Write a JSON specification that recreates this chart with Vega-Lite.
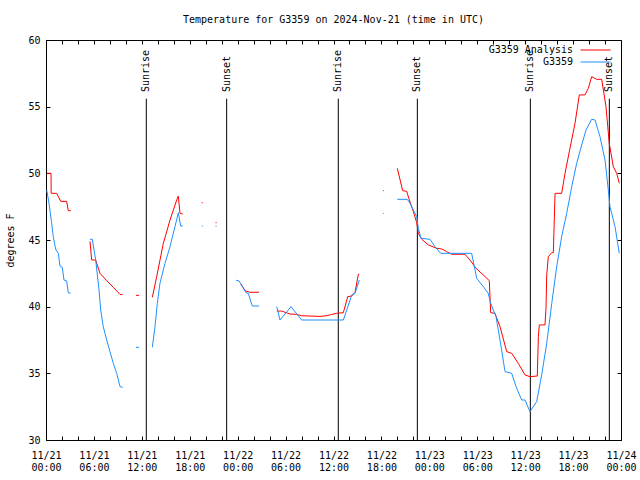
{
  "$schema": "https://vega.github.io/schema/vega-lite/v6.json",
  "width": 575,
  "height": 400,
  "autosize": {"type": "none"},
  "padding": {"left": 46, "top": 40, "right": 19, "bottom": 40},
  "background": "white",
  "title": {"text": "Temperature for G3359 on 2024-Nov-21 (time in UTC)", "font": "DejaVu Sans Mono", "fontSize": 10, "fontWeight": "normal", "color": "black", "anchor": "middle", "frame": "group", "offset": 10},
  "datasets": {
    "temps": [
      {"series":"G3359 Analysis","seg":"r1","hour":0.09,"temp":50.0},
      {"series":"G3359 Analysis","seg":"r1","hour":0.63,"temp":50.0},
      {"series":"G3359 Analysis","seg":"r1","hour":0.65,"temp":48.5},
      {"series":"G3359 Analysis","seg":"r1","hour":1.34,"temp":48.5},
      {"series":"G3359 Analysis","seg":"r1","hour":1.84,"temp":47.9},
      {"series":"G3359 Analysis","seg":"r1","hour":2.59,"temp":47.9},
      {"series":"G3359 Analysis","seg":"r1","hour":2.79,"temp":47.2},
      {"series":"G3359 Analysis","seg":"r1","hour":3.09,"temp":47.2},
      {"series":"G3359 Analysis","seg":"r2","hour":5.51,"temp":44.9},
      {"series":"G3359 Analysis","seg":"r2","hour":5.72,"temp":43.5},
      {"series":"G3359 Analysis","seg":"r2","hour":6.22,"temp":43.5},
      {"series":"G3359 Analysis","seg":"r2","hour":6.76,"temp":42.5},
      {"series":"G3359 Analysis","seg":"r2","hour":7.6,"temp":41.95},
      {"series":"G3359 Analysis","seg":"r2","hour":8.43,"temp":41.45},
      {"series":"G3359 Analysis","seg":"r2","hour":9.27,"temp":40.92},
      {"series":"G3359 Analysis","seg":"r2","hour":9.6,"temp":40.92},
      {"series":"G3359 Analysis","seg":"r3","hour":11.27,"temp":40.85},
      {"series":"G3359 Analysis","seg":"r3","hour":11.65,"temp":40.85},
      {"series":"G3359 Analysis","seg":"r4","hour":13.31,"temp":40.7},
      {"series":"G3359 Analysis","seg":"r4","hour":13.86,"temp":42.25},
      {"series":"G3359 Analysis","seg":"r4","hour":14.69,"temp":44.75},
      {"series":"G3359 Analysis","seg":"r4","hour":15.53,"temp":46.5},
      {"series":"G3359 Analysis","seg":"r4","hour":16.37,"temp":48.0},
      {"series":"G3359 Analysis","seg":"r4","hour":16.57,"temp":48.3},
      {"series":"G3359 Analysis","seg":"r4","hour":16.78,"temp":47.0},
      {"series":"G3359 Analysis","seg":"r4","hour":17.12,"temp":46.95},
      {"series":"G3359 Analysis","seg":"r5","hour":19.5,"temp":47.8},
      {"series":"G3359 Analysis","seg":"r5","hour":19.63,"temp":47.8},
      {"series":"G3359 Analysis","seg":"r6","hour":21.23,"temp":46.3},
      {"series":"G3359 Analysis","seg":"r6","hour":21.36,"temp":46.3},
      {"series":"G3359 Analysis","seg":"r7","hour":24.38,"temp":41.7},
      {"series":"G3359 Analysis","seg":"r7","hour":24.92,"temp":41.2},
      {"series":"G3359 Analysis","seg":"r7","hour":25.54,"temp":41.08},
      {"series":"G3359 Analysis","seg":"r7","hour":26.67,"temp":41.08},
      {"series":"G3359 Analysis","seg":"r8","hour":28.89,"temp":39.67},
      {"series":"G3359 Analysis","seg":"r8","hour":29.51,"temp":39.67},
      {"series":"G3359 Analysis","seg":"r8","hour":30.55,"temp":39.45},
      {"series":"G3359 Analysis","seg":"r8","hour":31.39,"temp":39.42},
      {"series":"G3359 Analysis","seg":"r8","hour":32.02,"temp":39.32},
      {"series":"G3359 Analysis","seg":"r8","hour":34.31,"temp":39.27},
      {"series":"G3359 Analysis","seg":"r8","hour":35.15,"temp":39.32},
      {"series":"G3359 Analysis","seg":"r8","hour":35.78,"temp":39.42},
      {"series":"G3359 Analysis","seg":"r8","hour":36.4,"temp":39.5},
      {"series":"G3359 Analysis","seg":"r8","hour":37.23,"temp":39.55},
      {"series":"G3359 Analysis","seg":"r8","hour":37.78,"temp":40.75},
      {"series":"G3359 Analysis","seg":"r8","hour":38.28,"temp":40.8},
      {"series":"G3359 Analysis","seg":"r8","hour":38.69,"temp":41.05},
      {"series":"G3359 Analysis","seg":"r8","hour":39.11,"temp":42.43},
      {"series":"G3359 Analysis","seg":"r8","hour":39.23,"temp":42.43},
      {"series":"G3359 Analysis","seg":"r9","hour":42.18,"temp":48.7},
      {"series":"G3359 Analysis","seg":"r9","hour":42.3,"temp":48.7},
      {"series":"G3359 Analysis","seg":"r10","hour":43.99,"temp":50.38},
      {"series":"G3359 Analysis","seg":"r10","hour":44.66,"temp":48.7},
      {"series":"G3359 Analysis","seg":"r10","hour":45.17,"temp":48.65},
      {"series":"G3359 Analysis","seg":"r10","hour":45.5,"temp":48.0},
      {"series":"G3359 Analysis","seg":"r10","hour":46.0,"temp":47.13},
      {"series":"G3359 Analysis","seg":"r10","hour":46.42,"temp":46.3},
      {"series":"G3359 Analysis","seg":"r10","hour":46.62,"temp":45.5},
      {"series":"G3359 Analysis","seg":"r10","hour":47.05,"temp":45.05},
      {"series":"G3359 Analysis","seg":"r10","hour":47.87,"temp":44.63},
      {"series":"G3359 Analysis","seg":"r10","hour":48.92,"temp":44.38},
      {"series":"G3359 Analysis","seg":"r10","hour":49.55,"temp":44.33},
      {"series":"G3359 Analysis","seg":"r10","hour":50.17,"temp":44.13},
      {"series":"G3359 Analysis","seg":"r10","hour":50.8,"temp":43.93},
      {"series":"G3359 Analysis","seg":"r10","hour":52.47,"temp":43.93},
      {"series":"G3359 Analysis","seg":"r10","hour":53.09,"temp":43.5},
      {"series":"G3359 Analysis","seg":"r10","hour":53.84,"temp":42.88},
      {"series":"G3359 Analysis","seg":"r10","hour":54.76,"temp":42.38},
      {"series":"G3359 Analysis","seg":"r10","hour":55.51,"temp":41.95},
      {"series":"G3359 Analysis","seg":"r10","hour":55.68,"temp":39.55},
      {"series":"G3359 Analysis","seg":"r10","hour":56.22,"temp":39.5},
      {"series":"G3359 Analysis","seg":"r10","hour":56.85,"temp":38.5},
      {"series":"G3359 Analysis","seg":"r10","hour":57.69,"temp":36.63},
      {"series":"G3359 Analysis","seg":"r10","hour":58.31,"temp":36.5},
      {"series":"G3359 Analysis","seg":"r10","hour":59.14,"temp":35.75},
      {"series":"G3359 Analysis","seg":"r10","hour":59.98,"temp":34.88},
      {"series":"G3359 Analysis","seg":"r10","hour":60.6,"temp":34.75},
      {"series":"G3359 Analysis","seg":"r10","hour":61.52,"temp":34.8},
      {"series":"G3359 Analysis","seg":"r10","hour":61.65,"temp":37.75},
      {"series":"G3359 Analysis","seg":"r10","hour":61.77,"temp":38.63},
      {"series":"G3359 Analysis","seg":"r10","hour":62.48,"temp":38.63},
      {"series":"G3359 Analysis","seg":"r10","hour":62.61,"temp":39.88},
      {"series":"G3359 Analysis","seg":"r10","hour":62.7,"temp":42.38},
      {"series":"G3359 Analysis","seg":"r10","hour":62.9,"temp":43.75},
      {"series":"G3359 Analysis","seg":"r10","hour":63.33,"temp":44.05},
      {"series":"G3359 Analysis","seg":"r10","hour":63.53,"temp":44.05},
      {"series":"G3359 Analysis","seg":"r10","hour":63.74,"temp":48.5},
      {"series":"G3359 Analysis","seg":"r10","hour":64.57,"temp":48.5},
      {"series":"G3359 Analysis","seg":"r10","hour":64.99,"temp":50.0},
      {"series":"G3359 Analysis","seg":"r10","hour":65.61,"temp":51.88},
      {"series":"G3359 Analysis","seg":"r10","hour":66.24,"temp":53.75},
      {"series":"G3359 Analysis","seg":"r10","hour":66.78,"temp":55.88},
      {"series":"G3359 Analysis","seg":"r10","hour":67.49,"temp":55.88},
      {"series":"G3359 Analysis","seg":"r10","hour":67.91,"temp":56.38},
      {"series":"G3359 Analysis","seg":"r10","hour":68.33,"temp":57.25},
      {"series":"G3359 Analysis","seg":"r10","hour":68.96,"temp":57.05},
      {"series":"G3359 Analysis","seg":"r10","hour":69.58,"temp":57.05},
      {"series":"G3359 Analysis","seg":"r10","hour":70.12,"temp":55.0},
      {"series":"G3359 Analysis","seg":"r10","hour":70.53,"temp":52.25},
      {"series":"G3359 Analysis","seg":"r10","hour":71.04,"temp":50.5},
      {"series":"G3359 Analysis","seg":"r10","hour":71.46,"temp":50.0},
      {"series":"G3359 Analysis","seg":"r10","hour":71.79,"temp":49.25},
      {"series":"G3359","seg":"b1","hour":0.09,"temp":48.75},
      {"series":"G3359","seg":"b1","hour":0.38,"temp":47.75},
      {"series":"G3359","seg":"b1","hour":0.71,"temp":46.25},
      {"series":"G3359","seg":"b1","hour":0.91,"temp":45.25},
      {"series":"G3359","seg":"b1","hour":1.21,"temp":44.3},
      {"series":"G3359","seg":"b1","hour":1.54,"temp":44.0},
      {"series":"G3359","seg":"b1","hour":1.75,"temp":43.05},
      {"series":"G3359","seg":"b1","hour":2.04,"temp":42.95},
      {"series":"G3359","seg":"b1","hour":2.25,"temp":42.0},
      {"series":"G3359","seg":"b1","hour":2.59,"temp":41.93},
      {"series":"G3359","seg":"b1","hour":2.79,"temp":41.05},
      {"series":"G3359","seg":"b1","hour":3.09,"temp":41.0},
      {"series":"G3359","seg":"b2","hour":5.51,"temp":45.05},
      {"series":"G3359","seg":"b2","hour":5.8,"temp":45.05},
      {"series":"G3359","seg":"b2","hour":6.22,"temp":43.5},
      {"series":"G3359","seg":"b2","hour":6.64,"temp":41.25},
      {"series":"G3359","seg":"b2","hour":6.85,"temp":39.75},
      {"series":"G3359","seg":"b2","hour":7.17,"temp":38.5},
      {"series":"G3359","seg":"b2","hour":7.6,"temp":37.5},
      {"series":"G3359","seg":"b2","hour":8.01,"temp":36.63},
      {"series":"G3359","seg":"b2","hour":8.43,"temp":35.75},
      {"series":"G3359","seg":"b2","hour":8.85,"temp":35.0},
      {"series":"G3359","seg":"b2","hour":9.27,"temp":34.0},
      {"series":"G3359","seg":"b2","hour":9.6,"temp":33.95},
      {"series":"G3359","seg":"b3","hour":11.27,"temp":36.95},
      {"series":"G3359","seg":"b3","hour":11.65,"temp":36.95},
      {"series":"G3359","seg":"b4","hour":13.31,"temp":36.95},
      {"series":"G3359","seg":"b4","hour":13.65,"temp":38.5},
      {"series":"G3359","seg":"b4","hour":13.94,"temp":40.25},
      {"series":"G3359","seg":"b4","hour":14.27,"temp":41.75},
      {"series":"G3359","seg":"b4","hour":14.9,"temp":43.25},
      {"series":"G3359","seg":"b4","hour":15.53,"temp":44.5},
      {"series":"G3359","seg":"b4","hour":16.15,"temp":46.0},
      {"series":"G3359","seg":"b4","hour":16.57,"temp":47.05},
      {"series":"G3359","seg":"b4","hour":16.87,"temp":46.05},
      {"series":"G3359","seg":"b4","hour":17.12,"temp":46.05},
      {"series":"G3359","seg":"b5","hour":19.5,"temp":46.05},
      {"series":"G3359","seg":"b5","hour":19.63,"temp":46.05},
      {"series":"G3359","seg":"b6","hour":21.23,"temp":46.05},
      {"series":"G3359","seg":"b6","hour":21.36,"temp":46.05},
      {"series":"G3359","seg":"b7","hour":23.79,"temp":41.98},
      {"series":"G3359","seg":"b7","hour":24.17,"temp":41.93},
      {"series":"G3359","seg":"b7","hour":24.5,"temp":41.63},
      {"series":"G3359","seg":"b7","hour":25.04,"temp":41.05},
      {"series":"G3359","seg":"b7","hour":25.33,"temp":41.0},
      {"series":"G3359","seg":"b7","hour":25.83,"temp":40.05},
      {"series":"G3359","seg":"b7","hour":26.67,"temp":40.05},
      {"series":"G3359","seg":"b8","hour":28.89,"temp":40.0},
      {"series":"G3359","seg":"b8","hour":29.3,"temp":39.0},
      {"series":"G3359","seg":"b8","hour":30.68,"temp":40.0},
      {"series":"G3359","seg":"b8","hour":32.02,"temp":39.0},
      {"series":"G3359","seg":"b8","hour":37.23,"temp":39.0},
      {"series":"G3359","seg":"b8","hour":37.73,"temp":39.88},
      {"series":"G3359","seg":"b8","hour":38.3,"temp":40.9},
      {"series":"G3359","seg":"b8","hour":38.7,"temp":41.0},
      {"series":"G3359","seg":"b8","hour":39.23,"temp":42.0},
      {"series":"G3359","seg":"b9","hour":42.18,"temp":47.0},
      {"series":"G3359","seg":"b9","hour":42.3,"temp":47.0},
      {"series":"G3359","seg":"b10","hour":43.99,"temp":48.05},
      {"series":"G3359","seg":"b10","hour":45.24,"temp":48.05},
      {"series":"G3359","seg":"b10","hour":45.58,"temp":47.75},
      {"series":"G3359","seg":"b10","hour":46.0,"temp":47.25},
      {"series":"G3359","seg":"b10","hour":46.42,"temp":46.75},
      {"series":"G3359","seg":"b10","hour":46.62,"temp":45.88},
      {"series":"G3359","seg":"b10","hour":46.96,"temp":45.13},
      {"series":"G3359","seg":"b10","hour":48.08,"temp":45.05},
      {"series":"G3359","seg":"b10","hour":48.71,"temp":44.5},
      {"series":"G3359","seg":"b10","hour":49.42,"temp":44.0},
      {"series":"G3359","seg":"b10","hour":53.3,"temp":44.0},
      {"series":"G3359","seg":"b10","hour":53.93,"temp":42.13},
      {"series":"G3359","seg":"b10","hour":54.76,"temp":41.5},
      {"series":"G3359","seg":"b10","hour":55.38,"temp":41.0},
      {"series":"G3359","seg":"b10","hour":55.68,"temp":40.25},
      {"series":"G3359","seg":"b10","hour":56.35,"temp":39.25},
      {"series":"G3359","seg":"b10","hour":56.85,"temp":37.5},
      {"series":"G3359","seg":"b10","hour":57.48,"temp":35.13},
      {"series":"G3359","seg":"b10","hour":58.31,"temp":35.0},
      {"series":"G3359","seg":"b10","hour":58.94,"temp":33.88},
      {"series":"G3359","seg":"b10","hour":59.57,"temp":33.0},
      {"series":"G3359","seg":"b10","hour":59.98,"temp":33.0},
      {"series":"G3359","seg":"b10","hour":60.6,"temp":32.13},
      {"series":"G3359","seg":"b10","hour":61.44,"temp":32.88},
      {"series":"G3359","seg":"b10","hour":62.07,"temp":34.88},
      {"series":"G3359","seg":"b10","hour":62.7,"temp":37.25},
      {"series":"G3359","seg":"b10","hour":63.33,"temp":40.25},
      {"series":"G3359","seg":"b10","hour":63.95,"temp":43.0},
      {"series":"G3359","seg":"b10","hour":64.57,"temp":45.25},
      {"series":"G3359","seg":"b10","hour":65.2,"temp":47.0},
      {"series":"G3359","seg":"b10","hour":65.83,"temp":49.0},
      {"series":"G3359","seg":"b10","hour":66.45,"temp":50.75},
      {"series":"G3359","seg":"b10","hour":67.08,"temp":52.13},
      {"series":"G3359","seg":"b10","hour":67.62,"temp":53.25},
      {"series":"G3359","seg":"b10","hour":68.33,"temp":54.05},
      {"series":"G3359","seg":"b10","hour":68.75,"temp":54.0},
      {"series":"G3359","seg":"b10","hour":69.37,"temp":52.75},
      {"series":"G3359","seg":"b10","hour":70.0,"temp":51.0},
      {"series":"G3359","seg":"b10","hour":70.41,"temp":48.75},
      {"series":"G3359","seg":"b10","hour":70.62,"temp":47.5},
      {"series":"G3359","seg":"b10","hour":71.25,"temp":46.0},
      {"series":"G3359","seg":"b10","hour":71.79,"temp":44.0}
    ],
    "sun": [
      {"event":"Sunrise","hour":12.56},
      {"event":"Sunset","hour":22.62},
      {"event":"Sunrise","hour":36.6},
      {"event":"Sunset","hour":46.5},
      {"event":"Sunrise","hour":60.65},
      {"event":"Sunset","hour":70.54}
    ]
  },
  "layer": [
    {
      "data": {"name": "sun"},
      "mark": {"type": "rule", "color": "black", "strokeWidth": 1},
      "encoding": {
        "x": {"field": "hour", "type": "quantitative", "axis": {"orient": "top", "values": [0,2,4,6,8,10,12,14,16,18,20,22,24,26,28,30,32,34,36,38,40,42,44,46,48,50,52,54,56,58,60,62,64,66,68,70,72], "labels": false, "tickSize": -4, "title": null}},
        "y": {"datum": 55.6, "axis": {"orient": "right", "values": [30,35,40,45,50,55,60], "labels": false, "tickSize": -4, "title": null}},
        "y2": {"datum": 30}
      }
    },
    {
      "data": {"name": "temps"},
      "mark": {"type": "line", "strokeWidth": 1, "interpolate": "linear"},
      "encoding": {
        "x": {"field": "hour", "type": "quantitative", "scale": {"domain": [0, 72], "nice": false, "zero": false},
          "axis": {"orient": "bottom", "values": [0,2,4,6,8,10,12,14,16,18,20,22,24,26,28,30,32,34,36,38,40,42,44,46,48,50,52,54,56,58,60,62,64,66,68,70,72],
            "labelExpr": "datum.value % 6 == 0 ? ['11/' + (21 + floor(datum.value / 24)), (datum.value % 24 < 10 ? '0' : '') + (datum.value % 24) + ':00'] : ''",
            "tickSize": -4, "labelPadding": 14, "labelLineHeight": 12, "labelOverlap": false, "labelFlush": false, "title": null}},
        "y": {"field": "temp", "type": "quantitative", "scale": {"domain": [30, 60], "nice": false, "zero": false},
          "axis": {"orient": "left", "values": [30,35,40,45,50,55,60], "tickSize": -4, "labelPadding": 10, "title": "degrees F", "titleX": -36, "titleY": 200, "titleAngle": 270, "titleAlign": "center", "titleBaseline": "middle"}},
        "color": {"field": "series", "type": "nominal",
          "scale": {"domain": ["G3359 Analysis", "G3359"], "range": ["#ff0000", "#1e90ff"]},
          "legend": {"title": null, "orient": "none", "legendX": 527, "legendY": 4.5, "symbolType": "M-3,0H3", "symbolSize": 100, "symbolStrokeWidth": 1, "symbolOffset": 17, "labelOffset": -28, "labelAlign": "right", "rowPadding": 1, "padding": 0, "labelFont": "DejaVu Sans Mono", "labelFontSize": 10, "labelColor": "black"}},
        "detail": {"field": "seg", "type": "nominal"}
      }
    },
    {
      "data": {"name": "sun"},
      "mark": {"type": "text", "angle": 270, "align": "left", "baseline": "middle", "font": "DejaVu Sans Mono", "fontSize": 10, "color": "black"},
      "encoding": {
        "x": {"field": "hour", "type": "quantitative", "axis": null},
        "y": {"datum": 56.1, "axis": null},
        "text": {"field": "event"}
      }
    }
  ],
  "resolve": {"axis": {"x": "independent", "y": "independent"}},
  "config": {
    "font": "DejaVu Sans Mono",
    "view": {"stroke": "black", "strokeWidth": 1},
    "axis": {"domain": false, "grid": false, "tickColor": "black", "tickWidth": 1, "labelFont": "DejaVu Sans Mono", "labelFontSize": 10, "labelColor": "black", "titleFont": "DejaVu Sans Mono", "titleFontSize": 10, "titleFontWeight": "normal", "titleColor": "black"}
  }
}
